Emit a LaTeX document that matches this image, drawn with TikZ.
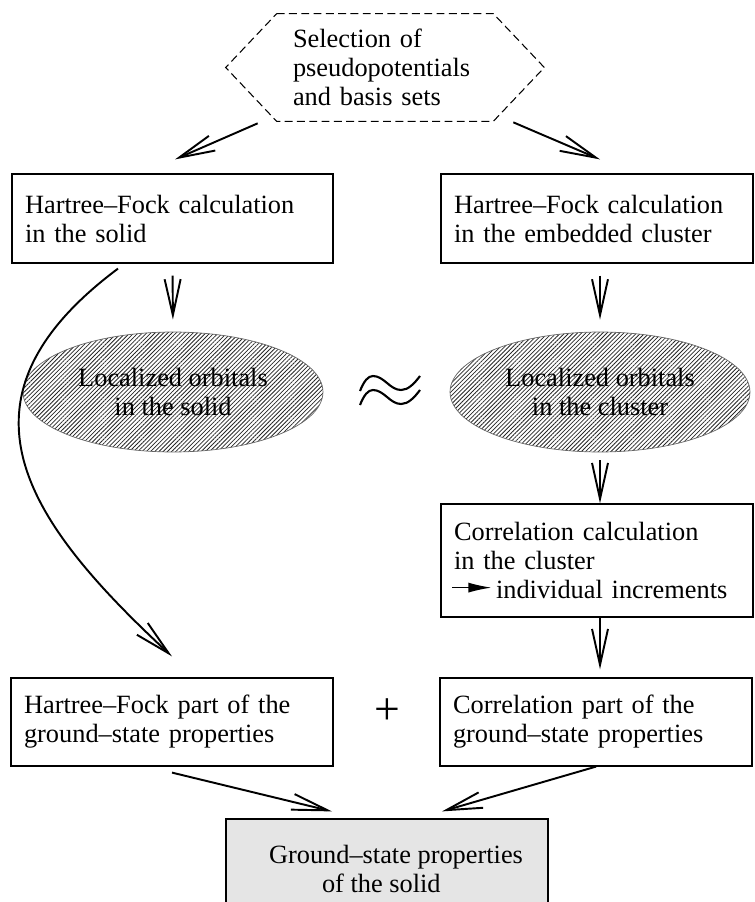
\documentclass[tikz,border=0pt]{standalone}
\usepackage{fontspec}
\setmainfont{Liberation Serif}
\usetikzlibrary{shapes,arrows.meta,positioning,calc,patterns.meta}

\begin{document}
\begin{tikzpicture}[
    x=0.02cm, y=-0.02cm,
    font=\fontsize{15}{16.5}\selectfont,
    box/.style={draw, line width=0.7pt, rectangle, inner xsep=0.26cm, inner ysep=0pt, align=left},
    hexa/.style={inner xsep=0.32cm, inner ysep=0pt, align=left, text width=3.68cm, minimum height=2.14cm},
    blob/.style={draw=black!60, ellipse, pattern={Lines[angle=45,distance=1.7pt,line width=0.45pt]}, pattern color=black!85, minimum width=6cm, minimum height=2.4cm, align=center},
    flow/.style={line width=1.1pt, -{Straight Barb[length=0.72cm,width=0.32cm,line width=1.1pt]}}
]
\useasboundingbox (0,0) rectangle (754,902);

\node[hexa] (sel) at (385,67.5) {Selection of\\pseudopotentials\\and basis sets};
\draw[dash pattern=on 4.5pt off 2.5pt, line width=0.6pt] (sel.north west) -- (sel.north east) -- ([xshift=1.02cm]sel.east) -- (sel.south east) -- (sel.south west) -- ([xshift=-1.02cm]sel.west) -- cycle;

\node[box, text width=5.9cm, minimum height=1.78cm] (hfsolid) at (172.5,218.5) {Hartree--Fock calculation\\in the solid};
\node[box, text width=5.72cm, minimum height=1.78cm] (hfclus) at (597,218.5) {Hartree--Fock calculation\\in the embedded cluster};
\node[blob] (locsol) at (173,392) {Localized orbitals\\in the solid};
\node[blob] (locclus) at (600,392) {Localized orbitals\\in the cluster};
\node[box, text width=5.72cm, minimum height=2.26cm] (corrcalc) at (597,560.5) {Correlation calculation\\in the cluster\\\hspace*{0.84cm}individual increments};
\node[box, text width=5.92cm, minimum height=1.76cm] (hfpart) at (172,722) {Hartree--Fock part of the\\ground--state properties};
\node[box, text width=5.72cm, minimum height=1.76cm] (corrpart) at (596,722) {Correlation part of the\\ground--state properties};
\node[box, fill=black!10, minimum width=6.44cm, minimum height=2cm] (ground) at (387,869) {\hspace*{0.36cm}Ground--state properties\\\hspace*{1.42cm}of the solid};
\node[font=\fontsize{26}{26}\selectfont, inner sep=0pt] (plus) at (387,712) {+};

% approx sign between the orbitals
\foreach \dy in {0,14} {
  \draw[line width=1.2pt] (360,391+\dy) .. controls (364,381+\dy) and (368,376+\dy) .. (373,376+\dy) .. controls (384,376+\dy) and (390,390+\dy) .. (401,390+\dy) .. controls (408,390+\dy) and (414,384+\dy) .. (420,376+\dy);
}

% arrow in front of the increments
\draw[-{Latex[length=0.46cm,width=0.2cm]}, line width=0.7pt] ([xshift=0.24cm,yshift=0.6cm]corrcalc.south west) -- ++(0.78cm,0);

\draw[flow] ([xshift=-0.38cm,yshift=-0.04cm]sel.south west) -- ([xshift=0.05cm,yshift=0.28cm]hfsolid.north);
\draw[flow] ([xshift=0.4cm,yshift=-0.02cm]sel.south east) -- ([xshift=0.06cm,yshift=0.28cm]hfclus.north);
\draw[flow, shorten <=0.24cm, shorten >=0.24cm] (hfsolid.south) -- (locsol.north);
\draw[flow, shorten <=0.24cm, shorten >=0.24cm] (locclus.north |- hfclus.south) -- (locclus.north);
\draw[flow, shorten <=0.16cm] (locclus.south) -- (locclus.south |- corrcalc.north);
\draw[flow, shorten >=0.16cm] (locclus.south |- corrcalc.south) -- (locclus.south |- corrpart.north);
\draw[flow] ([xshift=-1.09cm,yshift=-0.1cm]hfsolid.south) .. controls (-58,400) and (26,521) .. ([yshift=0.42cm]hfpart.north);
\draw[flow] ([yshift=-0.12cm]hfpart.south) -- ([xshift=-1.1cm,yshift=0.14cm]ground.north);
\draw[flow] (corrpart.south) -- ([xshift=1.1cm,yshift=0.14cm]ground.north);

\end{tikzpicture}
\end{document}
